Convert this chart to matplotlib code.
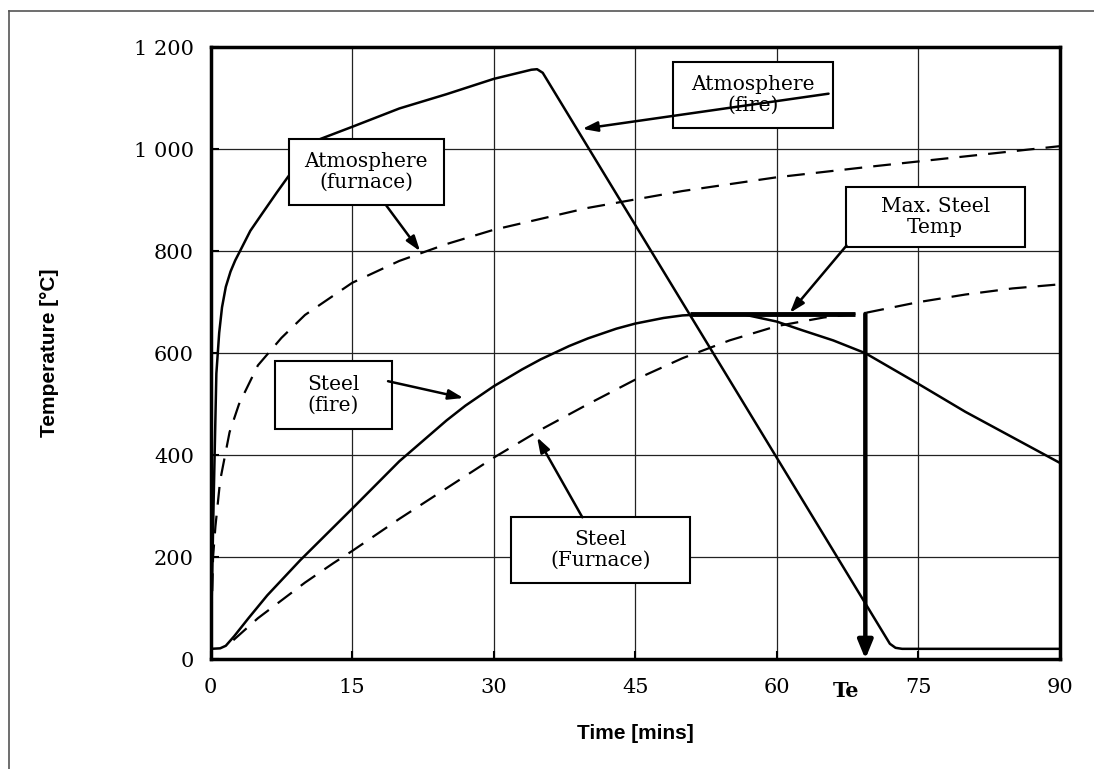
import matplotlib.pyplot as plt
from matplotlib.patches import Rectangle

# data
fire_atm_t = [0, 0.3, 0.6, 0.9, 1.2, 1.6, 2.1, 2.6, 3.1, 4.2, 5.5, 7.0, 8.2, 10, 11.6, 15, 20, 25, 30, 32, 34.0, 34.6, 35.2, 72.0, 72.6, 73.3, 90]
fire_atm_T = [20, 300, 560, 640, 690, 730, 760, 782, 800, 840, 875, 915, 946, 990, 1020, 1044, 1080, 1108, 1138, 1147, 1156, 1157, 1150, 30, 22, 20, 20]

furn_atm_t = [0, 0.25, 0.5, 1, 2, 3, 5, 7.5, 10, 15, 20, 25, 30, 40, 50, 60, 70, 80, 90]
furn_atm_T = [20, 200, 260, 350, 445, 500, 576, 630, 675, 738, 781, 814, 842, 885, 918, 945, 966, 986, 1006]

steel_fire_t = [0, 1.0, 1.6, 2.5, 4, 6, 9.5, 15, 20, 25, 27, 30, 33, 35, 38, 40, 43, 45, 48, 50, 53, 56.5, 60, 62.7, 66, 69.4, 75, 80, 85, 90]
steel_fire_T = [20, 21, 26, 45, 80, 125, 194, 295, 388, 468, 497, 535, 568, 588, 614, 629, 648, 658, 669, 674, 677, 676, 662, 645, 625, 600, 540, 485, 435, 385]

steel_furn_t = [2.4, 5, 10, 13, 15, 20, 25, 30, 35, 40, 45, 50, 55, 60, 65, 69.4, 75, 80, 85, 90]
steel_furn_T = [37, 80, 150, 188, 212, 275, 335, 395, 450, 500, 548, 590, 625, 653, 670, 679, 700, 715, 727, 735]

max_steel_T = 677
max_steel_t = [50.8, 68.3]
te_t = 69.4

x_ticks = [0, 15, 30, 45, 60, 75, 90]
x_tick_labels = ['0', '15', '30', '45', '60', '75', '90']
y_ticks = [0, 200, 400, 600, 800, 1000, 1200]
y_tick_labels = ['0', '200', '400', '600', '800', '1 000', '1 200']

# label boxes: text, centre (t, T), width, height (data units), arrow start, arrow tip
labels = [
    ('Atmosphere\n(fire)', (57.5, 1106), 17.0, 130, (65.5, 1109), (39.4, 1040)),
    ('Atmosphere\n(furnace)', (16.5, 955), 16.5, 130, (18.6, 890), (22.2, 800)),
    ('Steel\n(fire)', (13.0, 518), 12.4, 135, (18.8, 545), (26.8, 512)),
    ('Steel\n(Furnace)', (41.3, 214), 19.0, 128, (39.4, 278), (34.6, 435)),
    ('Max. Steel\nTemp', (76.8, 867), 19.0, 118, (67.4, 811), (61.4, 679)),
]

serif = ['DejaVu Serif']

fig = plt.figure(figsize=(10.94, 7.69), dpi=100)
ax = fig.add_axes([0.1926, 0.1430, 0.7760, 0.7955])

# outer frame of the picture (only left and top visible)
fig.add_artist(plt.Line2D([0.0082, 0.0082], [0, 0.9857], color='#555555', lw=1.2, transform=fig.transFigure))
fig.add_artist(plt.Line2D([0.0082, 1.0], [0.9857, 0.9857], color='#555555', lw=1.2, transform=fig.transFigure))

ax.plot(fire_atm_t, fire_atm_T, color='black', lw=1.8, zorder=3)
ax.plot(furn_atm_t, furn_atm_T, color='black', lw=1.6, ls=(0, (8, 5)), zorder=3)
ax.plot(steel_fire_t, steel_fire_T, color='black', lw=1.8, zorder=3)
ax.plot(steel_furn_t, steel_furn_T, color='black', lw=1.6, ls=(0, (8, 5)), zorder=3)

ax.plot(max_steel_t, [max_steel_T, max_steel_T], color='black', lw=3.5, solid_capstyle='butt', zorder=4)
ax.annotate('', xy=(te_t, 0), xytext=(te_t, max_steel_T),
            arrowprops=dict(arrowstyle='-|>,head_length=1.1,head_width=0.45', color='black', lw=3.2,
                            shrinkA=0, shrinkB=0), zorder=4)

for text, (cx, cy), w, h, start, tip in labels:
    ax.add_patch(Rectangle((cx - w / 2, cy - h / 2), w, h, facecolor='white', edgecolor='black',
                           lw=1.5, zorder=5))
    ax.text(cx, cy, text, ha='center', va='center', fontsize=14.5, family=serif,
            linespacing=1.12, zorder=6)
    ax.annotate('', xy=tip, xytext=start,
                arrowprops=dict(arrowstyle='-|>,head_length=0.9,head_width=0.3', color='black', lw=1.8,
                                shrinkA=0, shrinkB=0), zorder=6)

ax.set_xlim(0, 90)
ax.set_ylim(0, 1200)
ax.set_xticks(x_ticks)
ax.set_xticklabels(x_tick_labels, fontsize=15, family=serif)
ax.set_yticks(y_ticks)
ax.set_yticklabels(y_tick_labels, fontsize=15, family=serif)
ax.tick_params(direction='in', length=6, width=1.5, pad=12)
ax.tick_params(axis='x', pad=14)
ax.text(te_t - 2.0, -62, 'Te', ha='center', va='center', fontsize=15, fontweight='bold', family=serif)

ax.grid(True, color='#222222', lw=0.9)
ax.set_axisbelow(True)
for s in ax.spines.values():
    s.set_linewidth(2.5)

ax.set_xlabel('Time [mins]', fontsize=15, fontweight='bold', family='Liberation Sans', labelpad=19)
ax.set_ylabel('Temperature [°C]', fontsize=15, fontweight='bold', family='Liberation Sans', labelpad=54)

fig.savefig('out.png', dpi=100)
